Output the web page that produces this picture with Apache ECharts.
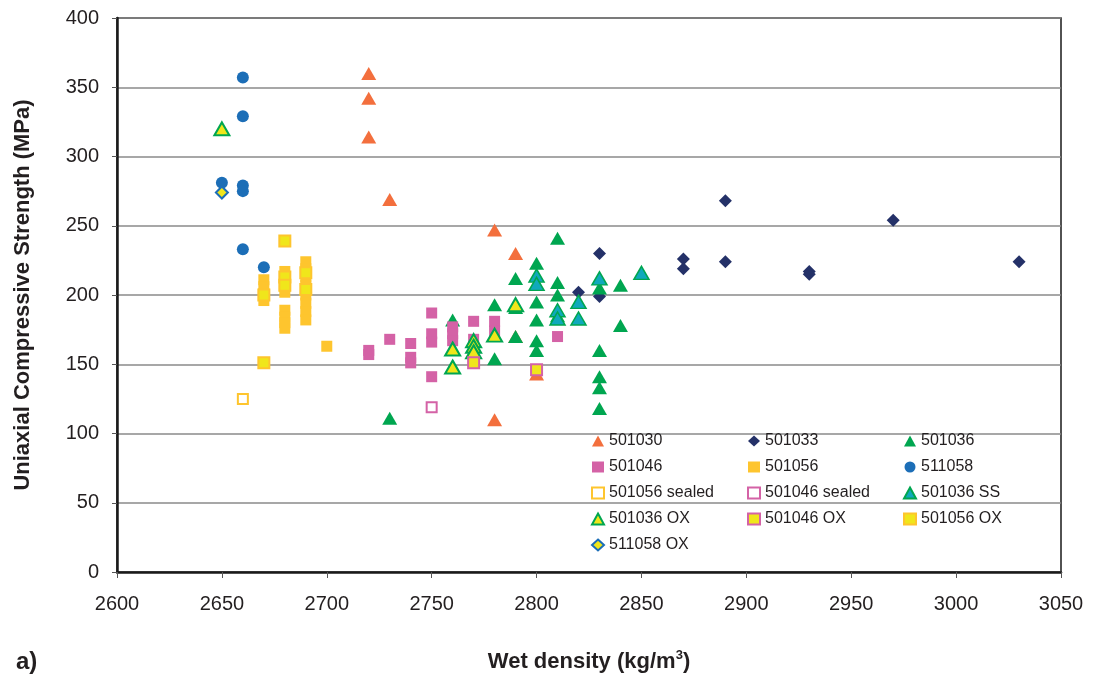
<!DOCTYPE html>
<html>
<head>
<meta charset="utf-8">
<title>Uniaxial Compressive Strength vs Wet density</title>
<script src="https://cdn.jsdelivr.net/npm/echarts@6/dist/echarts.min.js"></script>
<style>
  html, body { margin: 0; padding: 0; background: #ffffff; }
  #chart { width: 1096px; height: 682px; }
</style>
</head>
<body>
<div id="chart"></div>
<script>
// Wet density (kg/m3) vs UCS (MPa), one array per sample group
const s501030 = [[2720,360],[2720,342],[2720,314],[2730,269],[2780,247],[2790,230],[2790,170],[2800,143],[2780,110]];
const s501033 = [[2820,202],[2830,230],[2830,199],[2870,226],[2870,219],[2890,268],[2890,224],[2930,217],[2930,215],[2970,254],[3030,224]];
const s501036 = [[2730,111],[2760,182],[2780,193],[2780,154],[2790,212],[2790,191],[2790,170],[2800,223],[2800,195],[2800,182],[2800,167],[2800,160],[2810,241],[2810,209],[2810,200],[2810,185],[2830,205],[2830,160],[2830,141],[2830,133],[2830,118],[2840,207],[2840,178]];
const s501046 = [[2720,160],[2720,157],[2730,168],[2740,165],[2740,155],[2740,151],[2750,187],[2750,172],[2750,166],[2750,141],[2760,177],[2760,172],[2760,167],[2770,181],[2770,168],[2780,181],[2780,174],[2810,170]];
const s501056 = [[2670,211],[2670,206],[2670,201],[2670,196],[2680,217],[2680,211],[2680,206],[2680,202],[2680,189],[2680,184],[2680,180],[2680,176],[2690,224],[2690,219],[2690,213],[2690,207],[2690,200],[2690,194],[2690,188],[2690,182],[2700,163]];
const s511058 = [[2660,357],[2660,329],[2650,281],[2660,279],[2660,275],[2660,233],[2670,220]];
const s501056sealed = [[2660,125]];
const s501046sealed = [[2750,119]];
const s501036SS = [[2800,214],[2800,208],[2810,189],[2810,183],[2820,195],[2820,183],[2830,212],[2850,216]];
const s501036OX = [[2650,320],[2760,161],[2760,148],[2770,167],[2770,163],[2770,159],[2780,171],[2790,193]];
const s501046OX = [[2770,151],[2800,146]];
const s501056OX = [[2670,200],[2670,151],[2680,239],[2680,213],[2680,207],[2690,216],[2690,204]];
const s511058OX = [[2650,274]];

const xTicks = { min: 2600, max: 3050, step: 50 };
const yTicks = { min: 0, max: 400, step: 50 };

const FONT = 'Arial, "Liberation Sans", sans-serif';
const C = {
  orange: '#F36F3D', navy: '#243168', green: '#00A650', pink: '#D462A6',
  gold: '#FEC52E', blue: '#1C6EB7', teal: '#10A9BC', yellow: '#F0E61B'
};

function sc(name, data, symbol, size, fill, border, bw) {
  return {
    name, type: 'scatter', data, symbol, symbolSize: size,
    itemStyle: { color: fill, borderColor: border || fill, borderWidth: bw || 0, opacity: 1 },
    emphasis: { disabled: true }
  };
}

const series = [
  sc('501030', s501030, 'triangle', [15, 13], C.orange),
  sc('501033', s501033, 'diamond', [13, 13], C.navy),
  sc('501036', s501036, 'triangle', [15, 13], C.green),
  sc('501046', s501046, 'rect', [11, 11], C.pink),
  sc('501056', s501056, 'rect', [11, 11], C.gold),
  sc('511058', s511058, 'circle', 12, C.blue),
  sc('501056 sealed', s501056sealed, 'rect', [10, 10], '#ffffff', C.gold, 2),
  sc('501046 sealed', s501046sealed, 'rect', [10, 10], '#ffffff', C.pink, 2),
  sc('501036 SS', s501036SS, 'triangle', [15, 13], C.teal, C.green, 1.5),
  sc('501036 OX', s501036OX, 'triangle', [15, 13], C.yellow, C.green, 2),
  sc('501046 OX', s501046OX, 'rect', [11, 11], C.yellow, C.pink, 2),
  sc('501056 OX', s501056OX, 'rect', [11, 11], C.yellow, C.gold, 2),
  sc('511058 OX', s511058OX, 'diamond', [12, 12], C.yellow, C.blue, 2)
];

const legendBase = {
  orient: 'vertical', top: 433, padding: 0, itemWidth: 12, itemHeight: 11, itemGap: 10,
  selectedMode: false,
  textStyle: { fontFamily: FONT, fontSize: 16, color: '#231F20' }
};

const chart = echarts.init(document.getElementById('chart'), null, { renderer: 'canvas' });
chart.setOption({
  backgroundColor: '#ffffff',
  animation: false,
  grid: {
    left: 117, right: 35, top: 18, bottom: 110,
    show: true, borderColor: '#1a1a1a', borderWidth: 1.5, backgroundColor: 'transparent'
  },
  legend: [
    Object.assign({ left: 591, data: ['501030', '501046', '501056 sealed', '501036 OX', '511058 OX'] }, legendBase),
    Object.assign({ left: 747, data: ['501033', '501056', '501046 sealed', '501046 OX'] }, legendBase),
    Object.assign({ left: 903, data: ['501036', '511058', '501036 SS', '501056 OX'] }, legendBase)
  ],
  xAxis: {
    type: 'value', min: xTicks.min, max: xTicks.max, interval: xTicks.step,
    name: 'Wet density (kg/m{sup|3})',
    nameLocation: 'middle', nameGap: 77,
    nameTextStyle: {
      fontFamily: FONT, fontSize: 22, fontWeight: 'bold', color: '#231F20',
      rich: { sup: { fontSize: 13, fontWeight: 'bold', verticalAlign: 'top', padding: [0, 0, 12, 0], color: '#231F20' } }
    },
    axisLine: { show: true, onZero: false, lineStyle: { color: '#1a1a1a', width: 2.5 } },
    axisTick: { show: true, inside: false, length: 6, lineStyle: { color: '#555', width: 1 } },
    axisLabel: { margin: 22, fontFamily: FONT, fontSize: 20, color: '#231F20', formatter: v => String(v) },
    splitLine: { show: false }
  },
  yAxis: {
    type: 'value', min: yTicks.min, max: yTicks.max, interval: yTicks.step,
    name: 'Uniaxial Compressive Strength (MPa)',
    nameLocation: 'middle', nameGap: 83, nameRotate: 90,
    nameTextStyle: { fontFamily: FONT, fontSize: 22, fontWeight: 'bold', color: '#231F20' },
    axisLine: { show: true, lineStyle: { color: '#1a1a1a', width: 2.5 } },
    axisTick: { show: true, inside: false, length: 5, lineStyle: { color: '#555', width: 1 } },
    axisLabel: { margin: 18, fontFamily: FONT, fontSize: 20, color: '#231F20', formatter: v => String(v) },
    splitLine: { show: true, lineStyle: { color: '#8a8a8a', width: 1.5 } }
  },
  graphic: [{
    type: 'text', left: 16, top: 650,
    style: { text: 'a)', fontFamily: FONT, fontSize: 24, fontWeight: 'bold', fill: '#231F20' }
  }],
  series
});
</script>
</body>
</html>
